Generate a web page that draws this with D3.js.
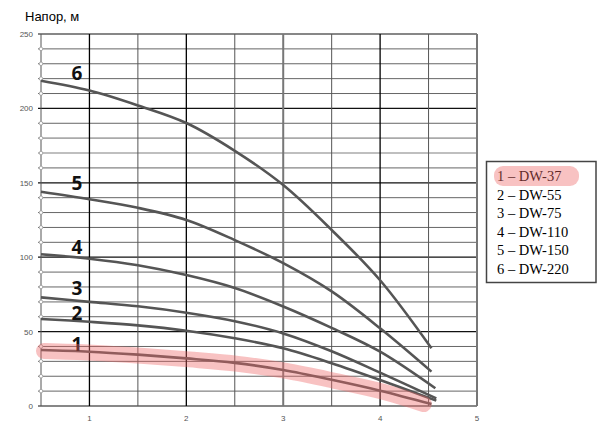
<!DOCTYPE html>
<html><head><meta charset="utf-8">
<script src="https://cdn.jsdelivr.net/npm/d3@7"></script>
<style>body{margin:0;background:#fff}svg{display:block}</style>
</head><body>
<svg id="chart" width="605" height="425"></svg>
<script>
// ---- data ----
const seriesNames = ["1 – DW-37","2 – DW-55","3 – DW-75","4 – DW-110","5 – DW-150","6 – DW-220"];
const curveLabels = ["1","2","3","4","5","6"];
const flowX = [0.5, 1, 1.5, 2, 2.5, 3, 3.5, 4];
const head1 = [37.6, 36.5, 34.5, 32.0, 29.0, 24.2, 17.6, 10.3];
const head2 = [58.5, 56.6, 54.2, 50.6, 45.5, 38.8, 28.8, 17.5];
const head3 = [73.0, 70.0, 67.0, 62.7, 57.0, 48.8, 36.8, 22.4];
const head4 = [102.0, 99.0, 94.6, 88.0, 79.3, 66.9, 52.5, 36.5];
const head5 = [144.0, 139.0, 133.2, 125.0, 111.5, 96.0, 77.0, 52.2];
const head6 = [218.6, 212.0, 202.0, 190.2, 171.5, 148.5, 118.3, 84.5];
const endFlow = [4.53, 4.58, 4.58, 4.57, 4.53, 4.53];
const endHead = [1.3, 3.6, 5.1, 11.9, 23.1, 38.8];
const labelFlow = [0.87, 0.87, 0.87, 0.87, 0.87, 0.87];
const labelHead = [42, 62.5, 79, 107, 150, 224];
const yTicks = [0, 50, 100, 150, 200, 250];
const xTicks = [1, 2, 3, 4, 5];
const yAxisTitle = "Напор, м";

const heads = [head1, head2, head3, head4, head5, head6];

const svg = d3.select("#chart");
const x = d3.scaleLinear().domain([0.5, 5]).range([41, 477]);
const y = d3.scaleLinear().domain([0, 250]).range([406, 34]);

// ---- grid ----
const g = svg.append("g");
const hVals = d3.range(0, 251, 10);
const light = d => (d === 70 || d === 170 || d === 180);
g.selectAll("line.h").data(hVals).join("line")
  .attr("x1", x(0.5) - 3).attr("x2", x(5))
  .attr("y1", d => y(d)).attr("y2", d => y(d))
  .attr("stroke", d => d % 50 === 0 ? "#111" : (light(d) ? "#aaa" : "#666"))
  .attr("stroke-width", d => d % 50 === 0 ? 1.2 : (light(d) ? 1.6 : 1));
const vVals = d3.range(0.5, 5.01, 0.5);
g.selectAll("line.v").data(vVals).join("line")
  .attr("x1", d => x(d)).attr("x2", d => x(d))
  .attr("y1", y(250)).attr("y2", y(0))
  .attr("stroke", d => (d === 3 || d === 5) ? "#777" : (Number.isInteger(d) ? "#000" : "#555"))
  .attr("stroke-width", d => (d === 3 || d === 5) ? 2 : (Number.isInteger(d) ? 1.3 : 1));
g.selectAll("circle.m").data(hVals.filter(d => d % 50 !== 0)).join("circle")
  .attr("cx", x(0.5)).attr("cy", d => y(d)).attr("r", 1.8)
  .attr("fill", "#fff").attr("stroke", "#999").attr("stroke-width", 0.8);

// ---- axis labels ----
svg.selectAll("text.yt").data(yTicks).join("text")
  .attr("x", 33).attr("y", d => y(d) + 3)
  .attr("text-anchor", "end").attr("font-family", "Liberation Sans, Arial, sans-serif")
  .attr("font-size", 8).attr("fill", "#555").text(d => d);
svg.selectAll("text.xt").data(xTicks).join("text")
  .attr("x", d => x(d)).attr("y", 421)
  .attr("text-anchor", "middle").attr("font-family", "Liberation Sans, Arial, sans-serif")
  .attr("font-size", 8).attr("fill", "#555").text(d => d);
svg.append("text").attr("x", 25).attr("y", 21)
  .attr("font-family", "Liberation Sans, Arial, sans-serif").attr("font-size", 13)
  .attr("fill", "#000").text(yAxisTitle);

// ---- curves ----
const line = d3.line().x(d => x(d[0])).y(d => y(d[1])).curve(d3.curveCatmullRom.alpha(0.5));
const seriesPts = heads.map((h, i) => flowX.map((f, j) => [f, h[j]]).concat([[endFlow[i], endHead[i]]]));

svg.append("g").selectAll("path").data(seriesPts).join("path")
  .attr("d", line).attr("fill", "none")
  .attr("stroke", "#555").attr("stroke-width", 2.6).attr("stroke-linecap", "butt");

// curve labels
svg.selectAll("text.cl").data(curveLabels).join("text")
  .attr("x", (d, i) => x(labelFlow[i])).attr("y", (d, i) => y(labelHead[i]) + 7)
  .attr("text-anchor", "middle").attr("font-family", "Open Sans, DejaVu Sans, sans-serif")
  .attr("font-weight", "bold").attr("font-size", 19).attr("fill", "#111").text(d => d);

// highlighter band over curve 1
const hl = seriesPts[0].slice(0, -1).concat([[4.42, 2]]);
svg.append("path").attr("d", line(hl)).attr("transform", "translate(3,1)")
  .attr("fill", "none").attr("stroke", "#ee6666").attr("stroke-opacity", 0.4)
  .attr("stroke-width", 16).attr("stroke-linecap", "round");

// ---- legend ----
const lg = svg.append("g");
lg.append("rect").attr("x", 486.5).attr("y", 161.5).attr("width", 109.5).attr("height", 121)
  .attr("fill", "#fff").attr("stroke", "#444").attr("stroke-width", 1.5);
lg.selectAll("text").data(seriesNames).join("text")
  .attr("x", 497).attr("y", (d, i) => 181 + i * 18.5)
  .attr("font-family", "Liberation Serif, Times New Roman, serif").attr("font-size", 14.5)
  .attr("fill", "#000").text(d => d);
lg.append("rect").attr("x", 494).attr("y", 166).attr("width", 85).attr("height", 20).attr("rx", 9)
  .attr("fill", "#ee6666").attr("fill-opacity", 0.4);
</script>
</body></html>
